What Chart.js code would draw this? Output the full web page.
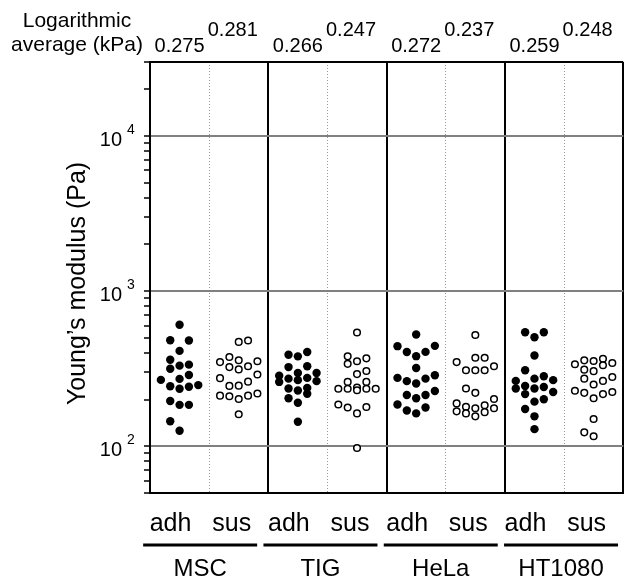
<!DOCTYPE html>
<html><head><meta charset="utf-8">
<script src="https://cdn.jsdelivr.net/npm/chart.js@4/dist/chart.umd.min.js"></script>
<style>html,body{margin:0;padding:0;background:#fff;}canvas{display:block;}</style>
</head><body>
<canvas id="c" width="628" height="587"></canvas>
<script>
// ---- data ----
const cellTypes = ['MSC', 'TIG', 'HeLa', 'HT1080'];
const conditions = ['adh', 'sus'];
const logAvgAdh = ['0.275', '0.266', '0.272', '0.259'];
const logAvgSus = ['0.281', '0.247', '0.237', '0.248'];
const yExponents = [2, 3, 4];
const yMin = 50, yMax = 30000;

// Young's modulus values (Pa) and horizontal swarm slot (-2..2) of each dot
const mscAdh     = [608,483,481,412,361,316,331,336,288,272,268,244,235,242,248,196,185,185,145,126];
const mscAdhSlot = [0,-1,1,0,-1,-1,0,1,1,0,-2,-1,0,1,2,-1,0,1,-1,0];
const mscSus     = [471,481,349,376,359,324,313,328,353,290,275,245,246,261,212,210,202,212,219,161];
const mscSusSlot = [0,1,-2,-1,0,-1,0,1,2,2,-2,-1,0,1,-2,-1,0,1,2,0];
const tigAdh     = [389,380,405,324,328,285,260,273,297,267,276,297,263,236,229,238,218,204,191,144];
const tigAdhSlot = [-1,0,1,-1,1,-2,-2,-1,0,0,1,2,2,-1,0,1,1,-1,0,0];
const tigSus     = [541,380,340,353,369,292,306,260,260,235,235,239,230,235,235,186,178,163,179,97.6];
const tigSusSlot = [0,-1,-1,0,1,0,1,-1,1,-2,-1,0,0,1,2,-2,-1,0,1,0];
const helaAdh     = [525,442,405,381,406,444,320,276,263,254,273,287,214,204,214,227,186,170,163,178];
const helaAdhSlot = [0,-2,-1,0,1,2,0,-2,-1,0,1,2,-1,0,1,2,-2,-1,0,1];
const helaSus     = [522,349,372,372,309,309,309,328,236,221,189,168,180,163,176,156,184,166,202,176];
const helaSusSlot = [0,-2,0,1,-1,0,1,2,-1,0,-2,-2,-1,-1,0,0,1,1,2,2];
const ht1080Adh     = [543,504,543,385,309,264,236,245,217,273,236,194,283,241,201,267,224,174,156,129];
const ht1080AdhSlot = [-1,0,1,0,-1,-2,-2,-1,-1,0,0,0,1,1,1,2,2,-1,0,0];
const ht1080Sus     = [338,358,355,367,333,344,312,305,273,250,264,280,228,221,204,217,224,150,123,116];
const ht1080SusSlot = [-2,-1,0,1,1,2,-1,0,-1,0,1,2,-2,-1,0,1,2,0,-1,0];

const adhGroups = [[mscAdh,mscAdhSlot],[tigAdh,tigAdhSlot],[helaAdh,helaAdhSlot],[ht1080Adh,ht1080AdhSlot]];
const susGroups = [[mscSus,mscSusSlot],[tigSus,tigSusSlot],[helaSus,helaSusSlot],[ht1080Sus,ht1080SusSlot]];

const SLOT = 0.158; // slot width in column units
function toPoints(groups, condIdx) {
  const pts = [];
  groups.forEach(([vals, slots], g) => {
    const center = g * 2 + condIdx + 0.5;
    vals.forEach((v, i) => pts.push({ x: center + slots[i] * SLOT, y: v }));
  });
  return pts;
}

const yTickValues = [];
[10, 100, 1000, 10000].forEach(d => {
  for (let m = 1; m <= 9; m++) {
    const v = m * d;
    if (v >= yMin && v <= yMax) yTickValues.push(v);
  }
});

const FONT = '"Liberation Sans", Arial, Helvetica, sans-serif';

const textPlugin = {
  id: 'texts',
  afterDraw(chart) {
    const { ctx, chartArea: ca } = chart;
    const x = chart.scales.x, y = chart.scales.y;
    ctx.save();
    ctx.fillStyle = '#000';
    ctx.strokeStyle = '#000';
    // y tick labels 10^n
    yExponents.forEach(e => {
      const py = y.getPixelForValue(Math.pow(10, e));
      ctx.font = '20px ' + FONT; ctx.textAlign = 'right'; ctx.textBaseline = 'middle';
      ctx.fillText('10', ca.left - 28, py + 4);
      ctx.font = '14px ' + FONT; ctx.textAlign = 'left';
      ctx.fillText(String(e), ca.left - 23, py - 6);
    });
    // y title
    ctx.save();
    ctx.translate(78, (ca.top + ca.bottom) / 2 + 6);
    ctx.rotate(-Math.PI / 2);
    ctx.font = '25px ' + FONT; ctx.textAlign = 'center'; ctx.textBaseline = 'middle';
    ctx.fillText('Young\u2019s modulus (Pa)', 0, 0);
    ctx.restore();
    // top header
    ctx.font = '21px ' + FONT; ctx.textAlign = 'center'; ctx.textBaseline = 'middle';
    ctx.fillText('Logarithmic', 77, 21);
    ctx.fillText('average (kPa)', 77, 45);
    ctx.font = '20px ' + FONT;
    cellTypes.forEach((c, g) => {
      ctx.fillText(logAvgAdh[g], x.getPixelForValue(g * 2 + 0.5), 46);
      ctx.fillText(logAvgSus[g], x.getPixelForValue(g * 2 + 1.5) - 6, 30);
    });
    // bottom labels
    ctx.font = '25px ' + FONT;
    cellTypes.forEach((c, g) => {
      conditions.forEach((cond, k) => {
        ctx.fillText(cond, x.getPixelForValue(g * 2 + k + 0.5) - (k === 0 ? 9 : 7), 524);
      });
      const l = x.getPixelForValue(g * 2), r = x.getPixelForValue(g * 2 + 2);
      const mid = (l + r) / 2 - 9 + g * 2;
      ctx.lineWidth = 3;
      ctx.beginPath(); ctx.moveTo(mid - 57, 545); ctx.lineTo(mid + 57, 545); ctx.stroke();
      ctx.font = '24px ' + FONT;
      ctx.fillText(c, mid, 569);
      ctx.font = '25px ' + FONT;
    });
    ctx.restore();
  }
};

new Chart(document.getElementById('c'), {
  type: 'scatter',
  data: {
    datasets: [
      { label: 'adh', data: toPoints(adhGroups, 0), pointRadius: 4.2, pointBackgroundColor: '#000', pointBorderColor: '#000', pointBorderWidth: 0, pointHoverRadius: 4.2 },
      { label: 'sus', data: toPoints(susGroups, 1), pointRadius: 3.3, pointBackgroundColor: '#fff', pointBorderColor: '#000', pointBorderWidth: 1.5, pointHoverRadius: 3.3 }
    ]
  },
  options: {
    responsive: false,
    animation: false,
    events: [],
    layout: { padding: { top: 62, bottom: 94, left: 0, right: 1 } },
    plugins: { legend: { display: false }, tooltip: { enabled: false }, title: { display: false } },
    scales: {
      x: {
        type: 'linear', min: 0, max: 8,
        afterBuildTicks: s => { s.ticks = [0,1,2,3,4,5,6,7,8].map(v => ({ value: v })); },
        afterFit: s => { s.height = 0; },
        ticks: { display: false },
        grid: {
          drawTicks: false,
          color: c => (c.tick && c.tick.value % 2 === 1) ? '#9a9a9a' : '#000',
          lineWidth: c => (c.tick && c.tick.value % 2 === 1) ? 1 : 2
        },
        border: { display: true, color: '#000', width: 2,
          dash: c => (c.tick && c.tick.value % 2 === 1) ? [1, 2] : [] }
      },
      y: {
        type: 'logarithmic', min: yMin, max: yMax,
        afterBuildTicks: s => { s.ticks = yTickValues.map(v => ({ value: v })); },
        afterFit: s => { s.width = 150; },
        ticks: { display: false },
        grid: {
          drawTicks: true, tickLength: 6, tickWidth: 1.5, tickColor: '#000',
          color: c => {
            const v = c.tick ? c.tick.value : 0;
            if (v === yMax) return '#000';
            if (yExponents.some(e => Math.abs(v - Math.pow(10, e)) < 1e-6)) return '#808080';
            return 'rgba(0,0,0,0)';
          },
          lineWidth: 2
        },
        border: { display: true, color: '#000', width: 2 }
      }
    }
  },
  plugins: [textPlugin]
});
</script>
</body></html>
